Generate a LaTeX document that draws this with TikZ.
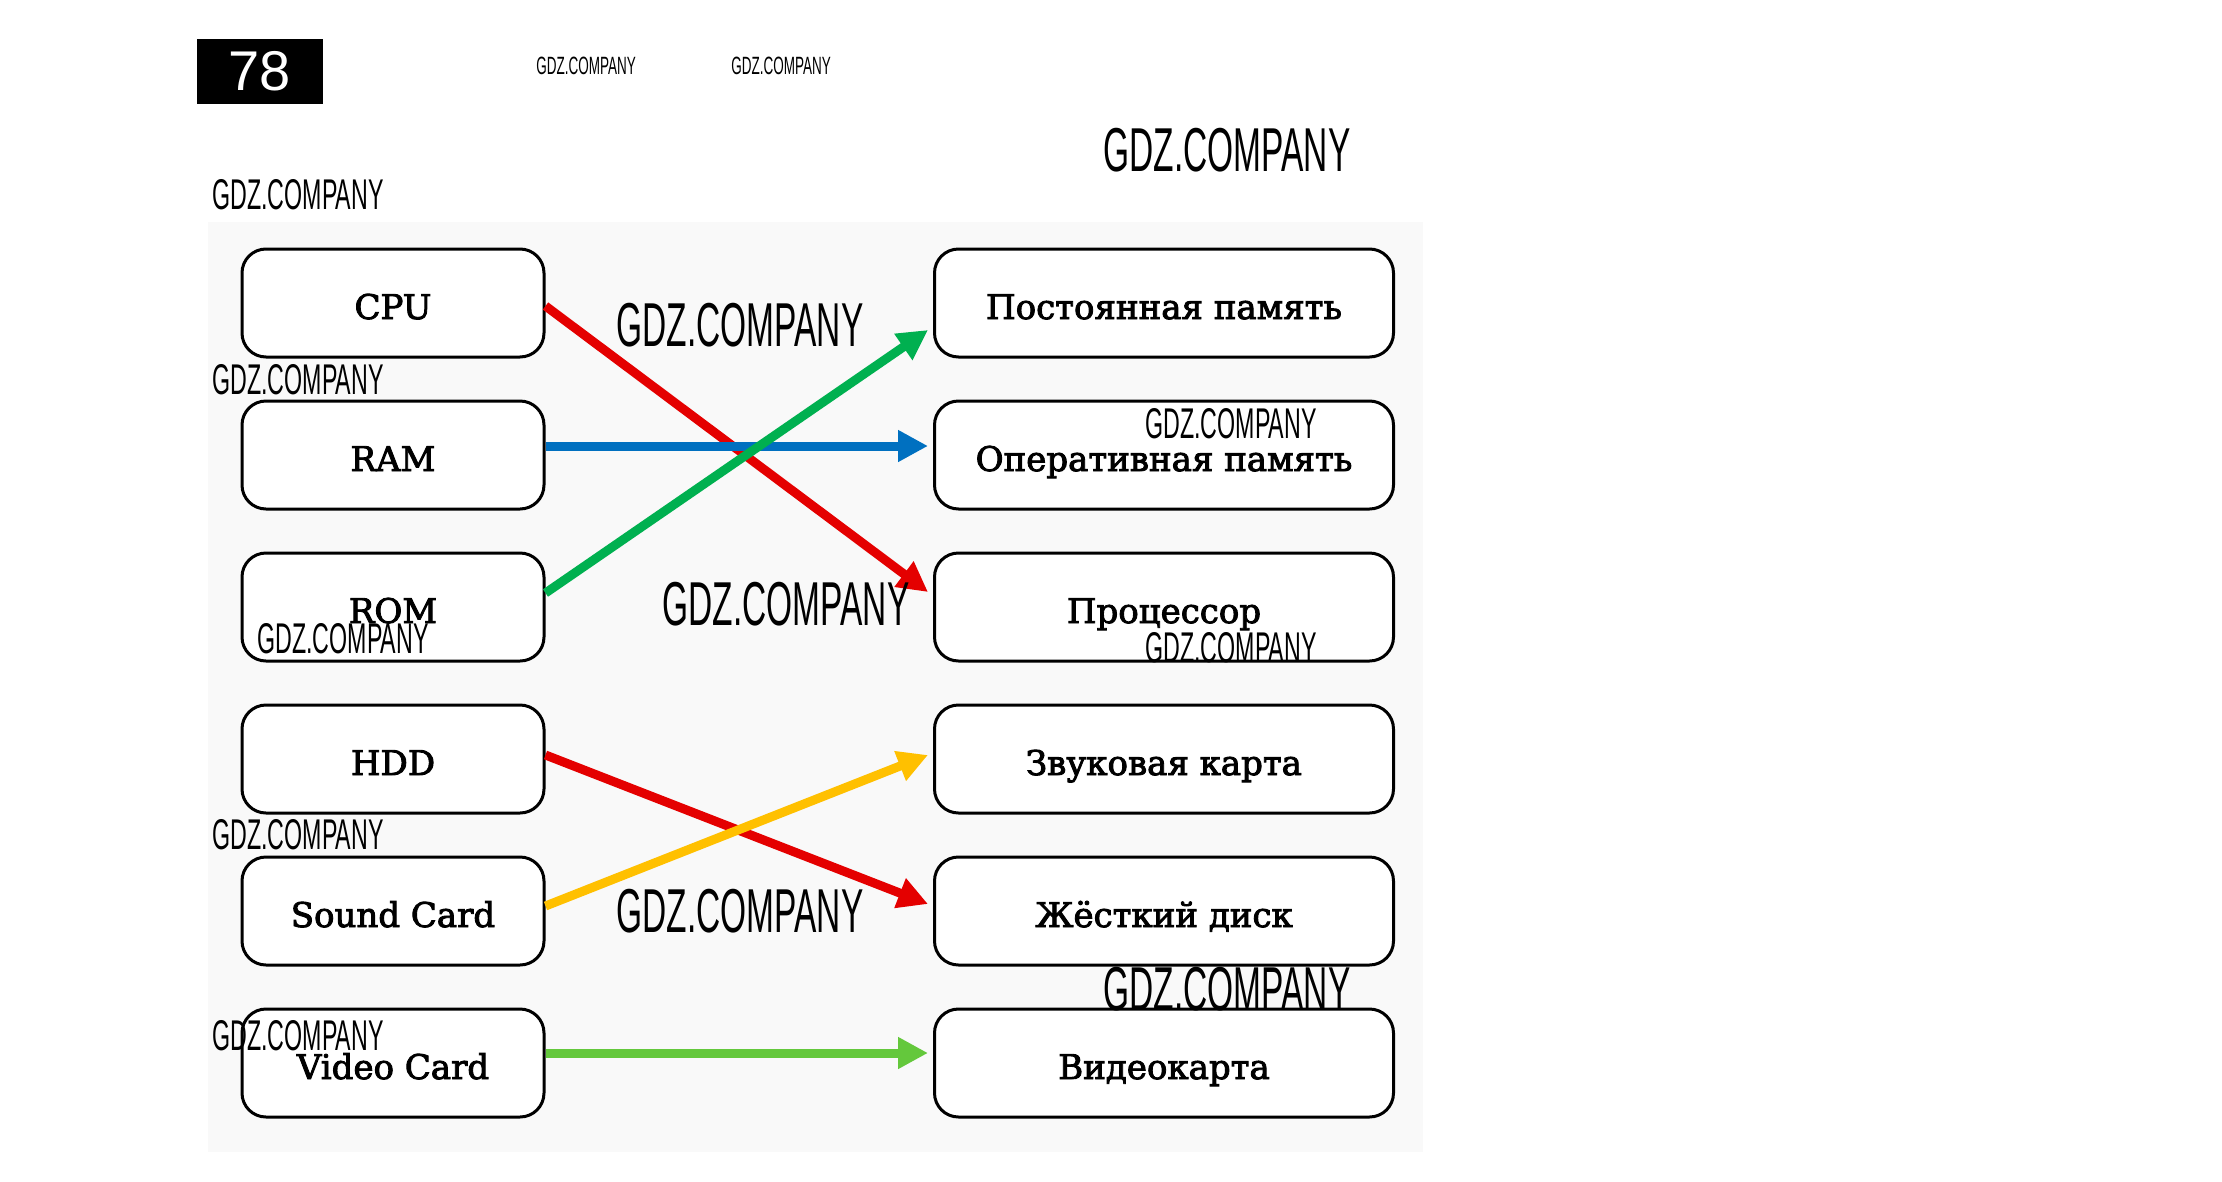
\documentclass[tikz,border=0pt]{standalone}
\usepackage{fontspec}
\usepackage{graphicx}
\usetikzlibrary{arrows.meta,calc}
\newfontfamily\boxfont{DejaVu Serif}[FakeBold=2.6]
\newfontfamily\wmfont{Liberation Sans}
\definecolor{arred}{RGB}{228,0,0}
\definecolor{arblue}{RGB}{0,112,192}
\definecolor{argreen}{RGB}{0,176,80}
\definecolor{aryellow}{RGB}{255,192,0}
\definecolor{arlgreen}{RGB}{100,200,60}
\definecolor{panelgray}{RGB}{249,249,249}
\newcommand\gdzmark[1]{\scalebox{0.54}[1]{\fontsize{#1}{#1}\selectfont\wmfont GDZ.COMPANY}}
\tikzset{
  boxbase/.style={draw=black, line width=3pt, rounded corners=24pt, fill=white,
    minimum height=108pt, inner sep=0pt, text height=32pt, text depth=0pt,
    font=\boxfont\fontsize{34}{40}\selectfont},
  lbox/.style={boxbase, minimum width=302pt},
  rbox/.style={boxbase, minimum width=459pt},
  conn/.style={line width=9pt, -{Triangle[length=30pt,width=30pt]}},
  wm/.style={inner sep=0pt, anchor=center, text=black},
}
\begin{document}
\begin{tikzpicture}[x=1pt,y=-1pt]
\useasboundingbox (0,0) rectangle (2222,1181);
\fill[white] (0,0) rectangle (2222,1181);
% panel
\fill[panelgray] (208,222) rectangle (1423,1152);
% left boxes
\node[lbox] (cpu) at (393,303) {CPU};
\node[lbox] (ram) at (393,455) {RAM};
\node[lbox] (rom) at (393,607) {ROM};
\node[lbox] (hdd) at (393,759) {HDD};
\node[lbox] (snd) at (393,911) {Sound Card};
\node[lbox] (vid) at (393,1063) {Video Card};
% right boxes
\node[rbox] (perm) at (1164,303) {Постоянная память};
\node[rbox] (oper) at (1164,455) {Оперативная память};
\node[rbox] (proc) at (1164,607) {Процессор};
\node[rbox] (zvuk) at (1164,759) {Звуковая карта};
\node[rbox] (hard) at (1164,911) {Жёсткий диск};
\node[rbox] (vcard) at (1164,1063) {Видеокарта};
% connectors
\draw[conn, arred] ($(cpu.east)+(0,3)$) -- ($(proc.west)+(-5,-15)$);
\draw[conn, arblue] ($(ram.east)+(0,-9)$) -- ($(oper.west)+(-5,-9)$);
\draw[conn, argreen] ($(rom.east)+(0,-14)$) -- ($(perm.west)+(-5,27)$);
\draw[conn, arred] ($(hdd.east)+(0,-4)$) -- ($(hard.west)+(-5,-7)$);
\draw[conn, aryellow] ($(snd.east)+(0,-5)$) -- ($(zvuk.west)+(-5,-4)$);
\draw[conn, arlgreen] ($(vid.east)+(0,-10)$) -- ($(vcard.west)+(-5,-10)$);
% page number
\node[fill=black, minimum width=126pt, minimum height=65pt, inner sep=0pt] (pnum) at (260,71.5) {};
\node[text=white, inner sep=0pt, font=\wmfont\fontsize{56}{56}\selectfont] (pnumtext) at (pnum.center) {78};
% watermarks
\node[wm] (wm1) at (586,66) {\gdzmark{25}};
\node[wm] (wm2) at (781,66) {\gdzmark{25}};
\node[wm] (wm3) at (1227,150) {\gdzmark{62}};
\node[wm] (wm4) at (298,195) {\gdzmark{43}};
\node[wm] (wm5) at (298,380) {\gdzmark{43}};
\node[wm] (wm6) at (740,325) {\gdzmark{62}};
\node[wm] (wm7) at (1231,424) {\gdzmark{43}};
\node[wm] (wm8) at (786,604) {\gdzmark{62}};
\node[wm] (wm9) at (343,639) {\gdzmark{43}};
\node[wm] (wm10) at (1231,648) {\gdzmark{43}};
\node[wm] (wm11) at (298,835) {\gdzmark{43}};
\node[wm] (wm12) at (740,911) {\gdzmark{62}};
\node[wm] (wm13) at (1227,989) {\gdzmark{62}};
\node[wm] (wm14) at (298,1036) {\gdzmark{43}};
\end{tikzpicture}
\end{document}
